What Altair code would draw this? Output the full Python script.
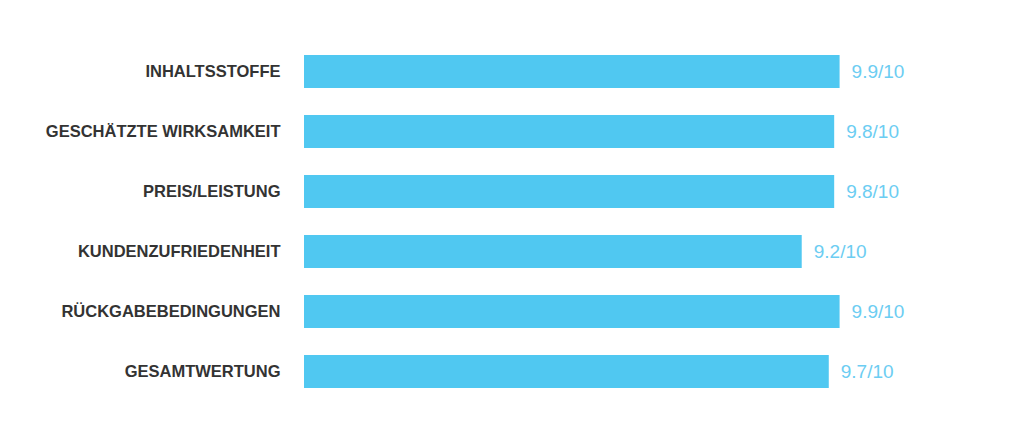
import altair as alt
import pandas as pd

categories = [
    "INHALTSSTOFFE",
    "GESCHÄTZTE WIRKSAMKEIT",
    "PREIS/LEISTUNG",
    "KUNDENZUFRIEDENHEIT",
    "RÜCKGABEBEDINGUNGEN",
    "GESAMTWERTUNG",
]
scores = [9.9, 9.8, 9.8, 9.2, 9.9, 9.7]
max_score = 10

df = pd.DataFrame({"kategorie": categories, "score": scores})

base = alt.Chart(df).encode(
    y=alt.Y(
        "kategorie:N",
        sort=categories,
        scale=alt.Scale(paddingInner=0.45, paddingOuter=0.225),
        axis=alt.Axis(
            title=None,
            domain=False,
            ticks=False,
            labelPadding=24,
            labelFont="Liberation Sans",
            labelFontWeight="bold",
            labelFontSize=16.5,
            labelColor="#333333",
            labelLimit=300,
        ),
    ),
    x=alt.X(
        "score:Q",
        scale=alt.Scale(domain=[0, max_score], nice=False, zero=True),
        axis=None,
    ),
)

bars = base.mark_bar(color="#50c8f1")

labels = base.mark_text(
    align="left",
    baseline="middle",
    dx=12,
    font="Liberation Sans",
    fontSize=19,
    color="#6ccdf2",
).encode(text="label:N").transform_calculate(
    label="format(datum.score, '.1f') + '/" + str(max_score) + "'"
)

chart = (
    alt.layer(bars, labels)
    .properties(
        width=541,
        height=360,
        autosize="none",
        padding={"left": 296, "top": 33.5, "right": 150, "bottom": 20},
        background="white",
    )
    .configure_view(strokeWidth=0, stroke="transparent")
)

chart.save("out.html", embed_options={"renderer": "svg", "actions": False})
